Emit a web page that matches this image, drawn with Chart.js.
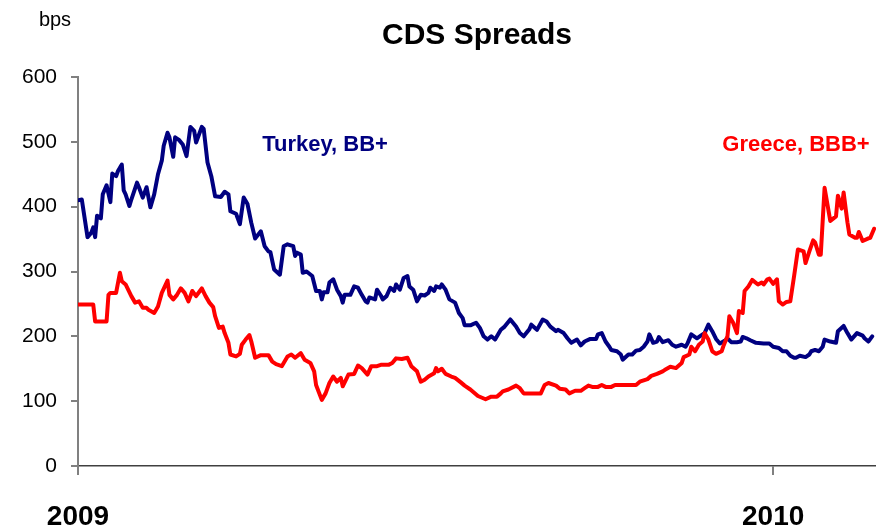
<!DOCTYPE html>
<html>
<head>
<meta charset="utf-8">
<title>CDS Spreads</title>
<script src="https://cdn.jsdelivr.net/npm/chart.js@4.4.1/dist/chart.umd.min.js"></script>
<style>
  html, body { margin: 0; padding: 0; background: #fff; }
  #wrap { width: 876px; height: 530px; }
</style>
</head>
<body>
<div id="wrap"><canvas id="cds" width="876" height="530"></canvas></div>
<script>
// x values are days since 1 Jan 2009
const turkeyDays = [0, 2, 5, 7, 8, 9, 10, 12, 13, 15, 17, 18, 20, 21, 23, 24, 25, 27, 28, 31, 32, 34, 36, 38, 40, 42, 44, 45, 47, 48,
  50, 51, 53, 55, 57, 59, 61, 62, 65, 66, 68, 70, 72, 75, 77, 79, 80, 83, 85, 87, 89, 91, 93, 96, 98, 100, 101, 103, 106, 108,
  110, 113, 114, 115, 117, 118, 120, 123, 125, 127, 128, 129, 131, 132, 134, 136, 138, 139, 140, 143, 145, 147, 149, 151, 152, 153, 156, 157, 159, 160,
  162, 164, 166, 167, 169, 171, 173, 174, 176, 178, 180, 182, 184, 185, 187, 188, 190, 191, 193, 195, 198, 200, 202, 203, 206, 209, 211, 213, 215, 217,
  219, 222, 224, 227, 230, 232, 234, 237, 238, 241, 244, 246, 248, 251, 252, 255, 257, 259, 262, 264, 266, 269, 272, 273, 275, 277, 279, 280, 283, 285,
  286, 289, 291, 293, 295, 297, 299, 300, 302, 304, 305, 307, 310, 312, 314, 317, 319, 320, 322, 325, 327, 329, 331, 333, 335, 337, 340, 341, 343, 346,
  348, 349, 351, 353, 356, 360, 363, 365, 368, 370, 372, 374, 376, 377, 379, 382, 384, 385, 387, 389, 391, 392, 395, 398, 399, 402, 404, 406, 409, 412,
  413, 415, 417];
const turkeyBps = [410, 411, 353, 360, 368, 353, 386, 382, 419, 433, 407, 451, 447, 455, 465, 425, 419, 401, 411, 437, 430, 414, 430, 399, 419, 450, 471, 494, 514, 507,
  477, 507, 503, 496, 478, 523, 517, 499, 523, 520, 468, 447, 416, 415, 423, 419, 393, 389, 373, 414, 404, 375, 351, 362, 339, 331, 330, 303, 295, 339,
  342, 339, 324, 329, 326, 298, 300, 293, 270, 270, 257, 268, 268, 283, 288, 272, 262, 252, 264, 264, 277, 275, 264, 254, 252, 260, 257, 272, 263, 257,
  262, 275, 270, 280, 272, 290, 293, 277, 272, 254, 264, 263, 267, 275, 270, 277, 275, 280, 272, 257, 252, 236, 228, 217, 217, 221, 213, 200, 195, 200,
  195, 210, 215, 226, 215, 205, 200, 211, 218, 210, 226, 223, 215, 208, 210, 205, 197, 190, 195, 186, 192, 196, 196, 203, 205, 192, 184, 179, 177, 172,
  164, 172, 172, 178, 179, 184, 192, 203, 190, 192, 199, 191, 194, 187, 184, 187, 184, 189, 203, 197, 201, 205, 218, 208, 196, 189, 194, 197, 191, 191,
  192, 199, 197, 194, 190, 189, 189, 184, 182, 177, 177, 170, 167, 167, 170, 168, 172, 177, 179, 177, 184, 195, 192, 190, 208, 216, 205, 195, 205, 201,
  197, 192, 200];

const greeceDays = [0, 8, 9, 15, 16, 17, 20, 22, 23, 25, 28, 30, 32, 34, 36, 37, 40, 42, 44, 47, 48, 50, 52, 54, 56, 58, 60, 62, 64, 65,
  67, 69, 71, 72, 74, 76, 77, 79, 80, 83, 85, 86, 88, 90, 91, 93, 96, 99, 100, 102, 104, 107, 110, 112, 114, 117, 119, 122, 124, 125,
  128, 130, 132, 134, 136, 138, 139, 142, 145, 147, 149, 152, 154, 157, 159, 163, 165, 167, 170, 173, 175, 178, 180, 182, 184, 187, 188, 189, 191, 193,
  196, 198, 201, 203, 206, 210, 214, 217, 220, 222, 223, 226, 230, 232, 234, 243, 245, 247, 251, 253, 256, 258, 261, 264, 266, 268, 270, 273, 275, 277,
  280, 282, 293, 295, 299, 301, 304, 307, 308, 311, 314, 317, 318, 321, 322, 324, 326, 328, 329, 331, 333, 335, 338, 339, 341, 342, 344, 346, 347, 349,
  350, 352, 354, 357, 359, 360, 362, 363, 365, 367, 368, 370, 372, 374, 376, 378, 381, 382, 384, 386, 387, 389, 390, 392, 395, 398, 399, 401, 402, 404,
  405, 408, 409, 410, 412, 415, 416, 418];
const greeceBps = [249, 249, 223, 223, 264, 267, 267, 298, 285, 280, 262, 252, 254, 244, 244, 241, 236, 246, 267, 286, 264, 257, 264, 274, 267, 254, 270, 262, 270, 274,
  262, 252, 245, 231, 213, 215, 205, 190, 172, 169, 173, 187, 195, 202, 192, 167, 171, 171, 171, 161, 157, 154, 169, 172, 167, 174, 164, 159, 146, 125,
  102, 112, 128, 138, 130, 136, 123, 141, 142, 155, 151, 141, 154, 154, 156, 156, 159, 166, 165, 167, 154, 146, 130, 133, 138, 143, 151, 146, 150, 142,
  138, 136, 129, 124, 118, 108, 103, 107, 107, 112, 115, 118, 124, 120, 112, 112, 125, 128, 124, 119, 118, 112, 116, 116, 120, 124, 122, 122, 125, 122,
  122, 125, 125, 130, 134, 139, 142, 146, 148, 153, 151, 159, 168, 172, 184, 177, 187, 192, 205, 195, 177, 173, 177, 186, 200, 231, 221, 205, 239, 236,
  270, 277, 287, 280, 283, 280, 288, 289, 281, 288, 254, 249, 253, 254, 293, 334, 331, 313, 331, 348, 345, 326, 326, 429, 378, 385, 417, 397, 422, 376,
  357, 352, 352, 361, 347, 351, 352, 366];

const yearTicks = [0, 365];
const yearLabels = ['2009', '2010'];
const yMax = 600;
const yStep = 100;

const FONT = '"Liberation Sans", Arial, Helvetica, sans-serif';
const NAVY = '#000080';
const RED = '#ff0000';

const toPoints = (xs, ys) => xs.map((x, i) => ({ x, y: ys[i] }));

// chart title, unit label and series names
const textPlugin = {
  id: 'cdsText',
  afterDraw(chart) {
    const ctx = chart.ctx;
    const area = chart.chartArea;
    ctx.save();
    ctx.textAlign = 'center';
    ctx.textBaseline = 'alphabetic';

    ctx.fillStyle = '#000';
    ctx.font = 'bold 30px ' + FONT;
    ctx.fillText('CDS Spreads', (area.left + area.right) / 2, 44);

    ctx.font = '20px ' + FONT;
    ctx.fillText('bps', 55, 26);

    ctx.font = 'bold 22px ' + FONT;
    ctx.fillStyle = NAVY;
    ctx.fillText('Turkey, BB+', 325, 151);
    ctx.fillStyle = RED;
    ctx.fillText('Greece, BBB+', 796, 151);
    ctx.restore();
  }
};

new Chart(document.getElementById('cds'), {
  type: 'line',
  data: {
    datasets: [
      { label: 'Greece, BBB+', data: toPoints(greeceDays, greeceBps), borderColor: RED, borderWidth: 4 },
      { label: 'Turkey, BB+', data: toPoints(turkeyDays, turkeyBps), borderColor: NAVY, borderWidth: 4 }
    ]
  },
  options: {
    responsive: false,
    animation: false,
    events: [],
    elements: {
      point: { radius: 0 },
      line: { tension: 0, fill: false, borderJoinStyle: 'round', borderCapStyle: 'round' }
    },
    layout: { padding: { top: 77, left: 0, right: 0, bottom: 0 } },
    plugins: {
      legend: { display: false },
      tooltip: { enabled: false },
      title: { display: false }
    },
    scales: {
      x: {
        type: 'linear',
        min: 0,
        max: 419,
        afterBuildTicks: (scale) => { scale.ticks = yearTicks.map(v => ({ value: v })); },
        afterFit: (scale) => { scale.height = 64; },
        ticks: {
          autoSkip: false,
          maxRotation: 0,
          padding: 25,
          color: '#000',
          font: { family: FONT, size: 28, weight: 'bold' },
          callback: (v) => yearLabels[yearTicks.indexOf(v)]
        },
        grid: { drawOnChartArea: false, drawTicks: true, tickLength: 9, color: '#808080', lineWidth: 2 },
        border: { display: true, color: '#404040', width: 1.5 }
      },
      y: {
        min: 0,
        max: yMax,
        afterFit: (scale) => { scale.width = 78; },
        ticks: {
          stepSize: yStep,
          padding: 14,
          color: '#000',
          font: { family: FONT, size: 21 }
        },
        grid: { drawOnChartArea: false, drawTicks: true, tickLength: 7, color: '#808080', lineWidth: 2 },
        border: { display: true, color: '#808080', width: 2 }
      }
    }
  },
  plugins: [textPlugin]
});
</script>
</body>
</html>
